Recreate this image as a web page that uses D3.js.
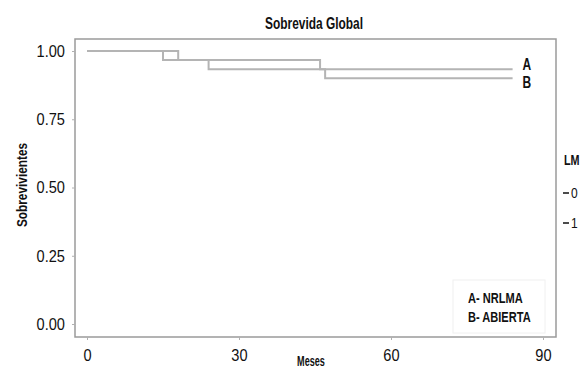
<!DOCTYPE html>
<html>
<head>
<meta charset="utf-8">
<title>Sobrevida Global</title>
<script src="https://d3js.org/d3.v7.min.js"></script>
<style>
  body { margin: 0; background: #fff; }
  svg text { font-family: "Liberation Sans", Arial, sans-serif; fill: #111; }
</style>
</head>
<body>
<svg id="chart" width="580" height="370"></svg>
<script>
// Kaplan-Meier steps
var timesA = [0, 15, 24, 84];
var survA  = [1.0, 0.967, 0.933, 0.933];
var timesB = [0, 18, 46, 47, 84];
var survB  = [1.0, 0.967, 0.933, 0.900, 0.900];
var curveLabels = ["A", "B"];
var xTicks = [0, 30, 60, 90];
var yTicks = [0, 0.25, 0.5, 0.75, 1];
var legendKeys = ["0", "1"];
var legendNotes = ["A- NRLMA", "B- ABIERTA"];

var svg = d3.select("#chart");

// squeeze text horizontally to mimic a condensed face
function squeeze(sel, k) {
  sel.each(function() {
    var t = d3.select(this);
    var tx = +t.attr("x") || 0, ty = +t.attr("y") || 0;
    var tr = t.attr("transform") || "";
    t.attr("x", null).attr("y", null)
     .attr("transform", tr + " translate(" + tx + "," + ty + ") scale(" + k + ",1)");
  });
}

// panel frame
var panel = {left: 75, top: 39, right: 556, bottom: 337};

var x = d3.scaleLinear().domain([0, 90]).range([87, 543]);
var y = d3.scaleLinear().domain([0, 1]).range([324, 51]);

svg.append("rect")
    .attr("x", panel.left).attr("y", panel.top)
    .attr("width", panel.right - panel.left)
    .attr("height", panel.bottom - panel.top)
    .attr("fill", "#fff")
    .attr("stroke", "#9a9a9a")
    .attr("stroke-width", 1.5);

// axes
var yAxis = svg.append("g")
    .attr("transform", "translate(" + panel.left + ",0)")
    .call(d3.axisLeft(y).tickValues(yTicks).tickFormat(d3.format(".2f")).tickSize(3).tickPadding(7));
var xAxis = svg.append("g")
    .attr("transform", "translate(0," + panel.bottom + ")")
    .call(d3.axisBottom(x).tickValues(xTicks).tickSize(3).tickPadding(9));

[xAxis, yAxis].forEach(function(a) {
  a.select(".domain").remove();
  a.selectAll("line").attr("stroke", "#b0b0b0");
  a.selectAll("text").attr("font-size", 17).attr("fill", "#222")
    .style("font-family", "'Liberation Sans', Arial, sans-serif");
  squeeze(a.selectAll("text"), 0.86);
});

// survival curves
var line = d3.line()
    .x(function(d) { return x(d[0]); })
    .y(function(d) { return y(d[1]); })
    .curve(d3.curveStepAfter);

var curves = [d3.zip(timesB, survB), d3.zip(timesA, survA)];
svg.selectAll("path.km")
  .data(curves)
  .enter().append("path")
    .attr("class", "km")
    .attr("d", line)
    .attr("fill", "none")
    .attr("stroke", "#b4b4b4")
    .attr("stroke-width", 2);

// end labels A / B
var ends = [survA[survA.length - 1], survB[survB.length - 1]];
var endLabs = svg.selectAll("text.endlab")
  .data(curveLabels)
  .enter().append("text")
    .attr("class", "endlab")
    .attr("x", x(84) + 10)
    .attr("y", function(d, i) { return y(ends[i]) + (i === 0 ? 1 : 10); })
    .attr("font-size", 16)
    .attr("font-weight", "bold")
    .text(function(d) { return d; });
squeeze(endLabs, 0.75);

// notes box
svg.append("rect")
    .attr("x", 453).attr("y", 280).attr("width", 92).attr("height", 53)
    .attr("fill", "#fff").attr("stroke", "#f0f0f0");
var notes = svg.selectAll("text.note")
  .data(legendNotes)
  .enter().append("text")
    .attr("class", "note")
    .attr("x", 468)
    .attr("y", function(d, i) { return 303 + i * 19; })
    .attr("font-size", 14)
    .attr("font-weight", "bold")
    .text(function(d) { return d; });
squeeze(notes, 0.79);

// titles
var title = svg.append("text")
    .attr("x", 314).attr("y", 29)
    .attr("text-anchor", "middle")
    .attr("font-size", 16)
    .attr("font-weight", "bold")
    .text("Sobrevida Global");
squeeze(title, 0.745);

var yTitle = svg.append("text")
    .attr("transform", "translate(27,185) rotate(-90)")
    .attr("text-anchor", "middle")
    .attr("font-size", 15)
    .attr("font-weight", "bold")
    .text("Sobrevivientes");
squeeze(yTitle, 0.79);

var xTitle = svg.append("text")
    .attr("x", 311).attr("y", 366)
    .attr("text-anchor", "middle")
    .attr("font-size", 14)
    .attr("font-weight", "bold")
    .text("Meses");
squeeze(xTitle, 0.65);

// right-hand legend (cut off at the edge)
var lm = svg.append("text")
    .attr("x", 564).attr("y", 165)
    .attr("font-size", 15)
    .attr("font-weight", "bold")
    .text("LM");
squeeze(lm, 0.72);

var keys = svg.selectAll("g.key")
  .data(legendKeys)
  .enter().append("g")
    .attr("class", "key")
    .attr("transform", function(d, i) { return "translate(0," + (193 + i * 30) + ")"; });
keys.append("line")
    .attr("x1", 563).attr("x2", 569)
    .attr("stroke", "#111").attr("stroke-width", 1.5);
var keyText = keys.append("text")
    .attr("x", 571).attr("y", 5)
    .attr("font-size", 15)
    .text(function(d) { return d; });
squeeze(keyText, 0.8);
</script>
</body>
</html>
